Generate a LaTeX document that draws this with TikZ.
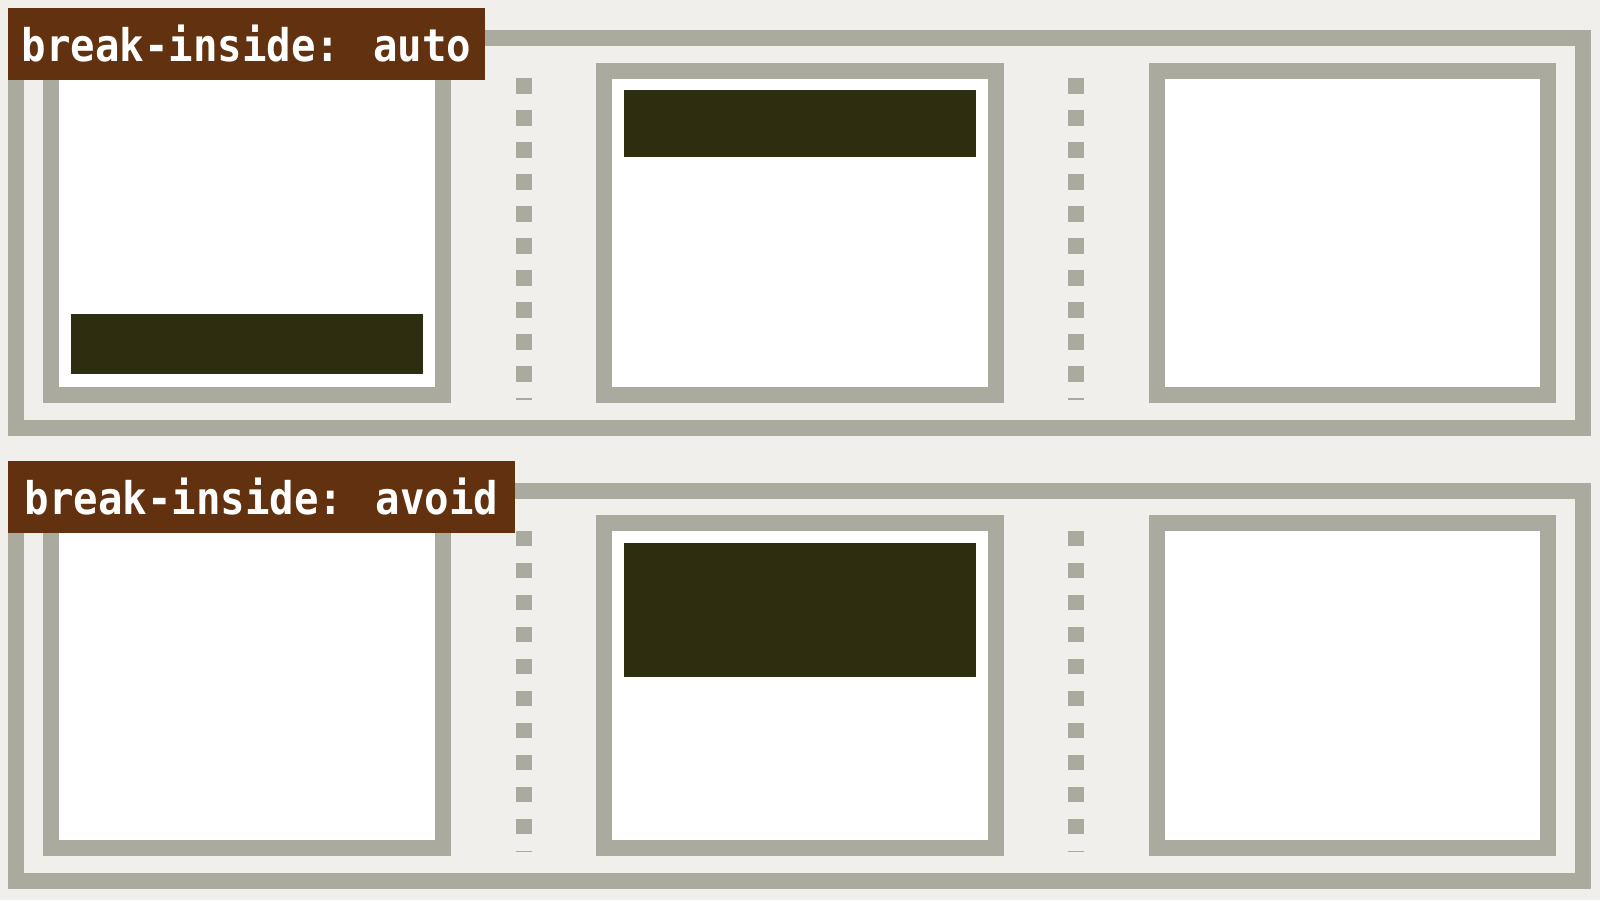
\documentclass[tikz,border=0pt]{standalone}
\usepackage{fontspec}
\newfontfamily\labelfont[FakeStretch=0.905]{DejaVu Sans Mono}
\definecolor{bgc}{RGB}{240,239,235}
\definecolor{grayc}{RGB}{170,171,158}
\definecolor{darkc}{RGB}{46,45,16}
\definecolor{brownc}{RGB}{98,50,16}
\begin{document}
\begin{tikzpicture}[x=1pt,y=-1pt,
  framebox/.style={draw=grayc, line width=16pt, fill=bgc, inner sep=0pt, outer sep=0pt,
    minimum width=1567pt, minimum height=390pt, anchor=north west},
  colbox/.style={draw=grayc, line width=16pt, fill=white, inner sep=0pt, outer sep=0pt,
    minimum width=391.4pt, minimum height=324.7pt, anchor=north west},
  barbox/.style={fill=darkc, inner sep=0pt, outer sep=0pt, minimum width=352pt, anchor=north west},
  dashline/.style={draw=grayc, line width=16pt, dash pattern=on 15.5pt off 16.5pt},
  labelbox/.style={fill=brownc, text=white, inner sep=0pt, outer sep=0pt, minimum height=72pt,
    anchor=north west, text height=35.4pt, text depth=0pt,
    font=\labelfont\bfseries\fontsize{45}{45}\selectfont}]
\useasboundingbox (0,0) rectangle (1600,900);
\fill[bgc] (0,0) rectangle (1600,900);
\foreach \i/\dy in {1/0,2/452.5}{
  \node[framebox] (f\i) at (16,38+\dy) {};
  \foreach \k in {0,1,2}{
    \node[colbox] (c\i\k) at (51.3+552.8*\k,70.5+\dy) {};
  }
  \coordinate (d\i a) at (523.5,78+\dy);
  \coordinate (d\i b) at (523.5,399.5+\dy);
  \coordinate (e\i a) at (1076.3,78+\dy);
  \coordinate (e\i b) at (1076.3,399.5+\dy);
  \draw[dashline] (d\i a) -- (d\i b);
  \draw[dashline] (e\i a) -- (e\i b);
}
\node[barbox, minimum width=351.7pt, minimum height=59.5pt] (b1) at (71.3,314) {};
\node[barbox, minimum height=67pt] (b2) at (624,90) {};
\node[barbox, minimum height=134pt] (b3) at (624,543.3) {};
\node[labelbox, minimum width=477pt] (l1) at (8,8) {break-inside: auto};
\node[labelbox, minimum width=507pt] (l2) at (8,460.5) {break-inside: avoid};
\end{tikzpicture}
\end{document}
